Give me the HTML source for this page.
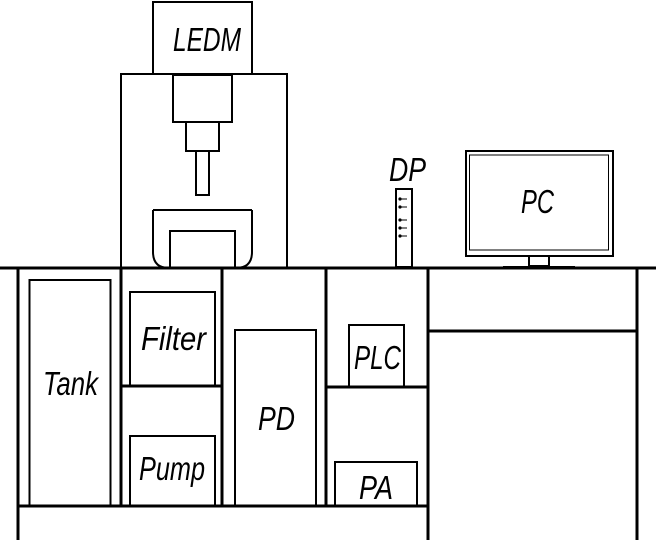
<!DOCTYPE html>
<html><head><meta charset="utf-8"><style>
html,body{margin:0;padding:0;background:#fff;}
svg{display:block;}
text{font-family:"Liberation Sans",sans-serif;font-style:italic;fill:#000;}
</style></head><body>
<svg width="656" height="541" viewBox="0 0 656 541" xmlns="http://www.w3.org/2000/svg">
<g fill="none" stroke="#000">
<g stroke-width="3">
<line x1="0" y1="268" x2="656" y2="268"/>
<line x1="18" y1="268" x2="18" y2="540"/>
<line x1="18" y1="506" x2="429" y2="506"/>
<line x1="121" y1="268" x2="121" y2="506"/>
<line x1="222" y1="268" x2="222" y2="506"/>
<line x1="326" y1="268" x2="326" y2="506"/>
<line x1="428" y1="268" x2="428" y2="540"/>
<line x1="637" y1="268" x2="637" y2="540"/>
<line x1="428" y1="331" x2="637" y2="331"/>
<line x1="121" y1="386" x2="222" y2="386"/>
<line x1="326" y1="387" x2="428" y2="387"/>
</g>
<g stroke-width="2">
<rect x="29.5" y="280" width="81" height="226"/>
<rect x="130" y="292" width="85" height="94"/>
<rect x="130" y="436" width="85" height="70"/>
<rect x="235" y="330" width="81" height="176"/>
<rect x="349" y="325" width="55" height="62"/>
<rect x="335" y="462" width="82" height="44"/>
<rect x="153" y="2" width="99" height="72"/>
<rect x="121" y="74" width="166" height="194"/>
<rect x="173" y="75" width="59" height="47"/>
<rect x="186" y="122" width="33" height="29"/>
<rect x="196" y="151" width="13" height="44"/>
<path d="M252 210 L252 252 Q252 268 236 268 M153 210 L252 210 M153 210 L153 252 Q153 268 169 268"/>
<rect x="170" y="231" width="65" height="37"/>
<rect x="396" y="189" width="16" height="78"/>
<rect x="466" y="151" width="147" height="105"/>
<rect x="529" y="256" width="20" height="10"/>
</g>
<rect x="469.5" y="155" width="139" height="95" stroke-width="1"/>
<line x1="503" y1="267" x2="575" y2="267" stroke-width="2"/>
<g stroke-width="1">
<line x1="400" y1="199" x2="407" y2="199"/>
<line x1="400" y1="207" x2="407" y2="207"/>
<line x1="400" y1="220" x2="407" y2="220"/>
<line x1="400" y1="228" x2="407" y2="228"/>
<line x1="400" y1="236" x2="407" y2="236"/>
</g>
</g>
<g fill="#000">
<circle cx="400" cy="199" r="1.6"/><circle cx="400" cy="207" r="1.6"/>
<circle cx="400" cy="220" r="1.6"/><circle cx="400" cy="228" r="1.6"/>
<circle cx="400" cy="236" r="1.6"/>
</g>
<g font-size="33">
<text x="173" y="51" textLength="68" lengthAdjust="spacingAndGlyphs">LEDM</text>
<text x="389" y="181" textLength="37" lengthAdjust="spacingAndGlyphs">DP</text>
<text x="521" y="213" textLength="33" lengthAdjust="spacingAndGlyphs">PC</text>
<text x="43" y="395" textLength="55" lengthAdjust="spacingAndGlyphs">Tank</text>
<text x="141" y="350" textLength="65" lengthAdjust="spacingAndGlyphs">Filter</text>
<text x="139" y="480" textLength="66" lengthAdjust="spacingAndGlyphs">Pump</text>
<text x="258" y="430" textLength="37" lengthAdjust="spacingAndGlyphs">PD</text>
<text x="354" y="369" textLength="47" lengthAdjust="spacingAndGlyphs">PLC</text>
<text x="359" y="499" textLength="34" lengthAdjust="spacingAndGlyphs">PA</text>
</g>
</svg>
</body></html>
